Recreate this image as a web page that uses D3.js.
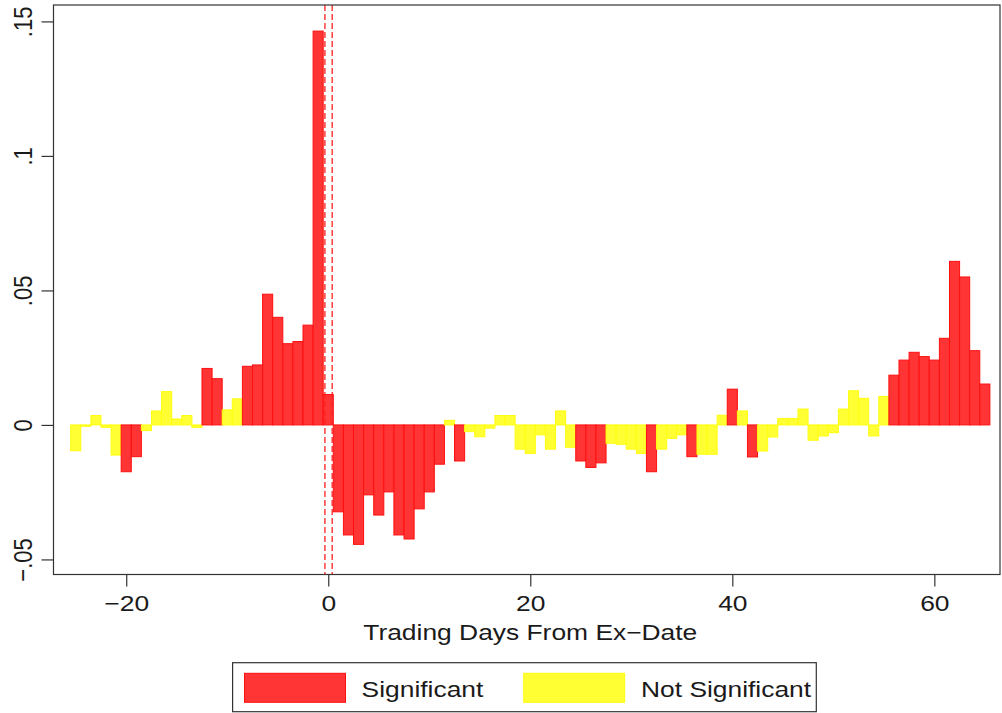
<!DOCTYPE html>
<html>
<head>
<meta charset="utf-8">
<script src="https://cdn.jsdelivr.net/npm/d3@7"></script>
<style>
  html, body { margin: 0; padding: 0; background: #fff; }
  svg { display: block; }
  text { font-family: "Liberation Sans", Arial, sans-serif; fill: #1a1a1a; }
</style>
</head>
<body>
<svg id="chart" width="1002" height="713"></svg>
<script>
// Abnormal returns by trading day relative to the ex-date
const days = d3.range(-25, 66);
const values = [
  -0.0096, -0.0005, 0.0035, -0.0009, -0.0112, -0.0174, -0.0118, -0.0021, 0.0052, 0.0124,
   0.0022, 0.0035, -0.0009, 0.0210, 0.0172, 0.0056, 0.0097, 0.0218, 0.0223, 0.0486,
   0.0400, 0.0302, 0.0310, 0.0371, 0.1464, 0.0113, -0.0323, -0.0409, -0.0444, -0.0260,
  -0.0335, -0.0249, -0.0409, -0.0424, -0.0312, -0.0249, -0.0146, 0.0017, -0.0134, -0.0025,
  -0.0044, -0.0012, 0.0035, 0.0035, -0.0090, -0.0106, -0.0037, -0.0090, 0.0052, -0.0083,
  -0.0134, -0.0158, -0.0141, -0.0068, -0.0072, -0.0090, -0.0106, -0.0174, -0.0090, -0.0050,
  -0.0037, -0.0118, -0.0109, -0.0109, 0.0036, 0.0133, 0.0052, -0.0119, -0.0097, -0.0045,
   0.0024, 0.0024, 0.0059, -0.0057, -0.0041, -0.0029, 0.0059, 0.0127, 0.0099, -0.0041,
   0.0106, 0.0185, 0.0241, 0.0270, 0.0254, 0.0241, 0.0322, 0.0608, 0.0550, 0.0276,
   0.0152
];
// 1 = significant, 0 = not significant
const significant = [
  0, 0, 0, 0, 0, 1, 1, 0, 0, 0,
  0, 0, 0, 1, 1, 0, 0, 1, 1, 1,
  1, 1, 1, 1, 1, 1, 1, 1, 1, 1,
  1, 1, 1, 1, 1, 1, 1, 0, 1, 0,
  0, 0, 0, 0, 0, 0, 0, 0, 0, 0,
  1, 1, 1, 0, 0, 0, 0, 1, 0, 0,
  0, 1, 0, 0, 0, 1, 0, 1, 0, 0,
  0, 0, 0, 0, 0, 0, 0, 0, 0, 0,
  0, 1, 1, 1, 1, 1, 1, 1, 1, 1,
  1
];
const xTicks = [-20, 0, 20, 40, 60];
const xTickLabels = ["\u221220", "0", "20", "40", "60"];
const yTicks = [-0.05, 0, 0.05, 0.1, 0.15];
const yTickLabels = ["\u2212.05", "0", ".05", ".1", ".15"];
const eventLines = [-0.33, 0.39];
const legendLabels = ["Significant", "Not Significant"];

const data = days.map((d, i) => ({ day: d, value: values[i], sig: significant[i] === 1 }));

const colors = {
  sig:    { fill: "#ff3434", stroke: "#ff1010" },
  nonsig: { fill: "#ffff33", stroke: "#ffff10" }
};

const svg = d3.select("#chart");
const plot = { left: 53.5, right: 1000, top: 5, bottom: 574.5 };
const stretch = "scale(1.2,1)";

const x = d3.scaleLinear().domain([-27.2, 66.5]).range([plot.left, plot.right]);
const y = d3.scaleLinear().domain([-0.0556, 0.1561]).range([plot.bottom, plot.top]);

// bars
svg.append("g")
  .selectAll("rect")
  .data(data)
  .join("rect")
  .attr("x", d => x(d.day - 0.5))
  .attr("width", d => x(d.day + 0.5) - x(d.day - 0.5))
  .attr("y", d => y(Math.max(0, d.value)))
  .attr("height", d => Math.abs(y(d.value) - y(0)))
  .attr("fill", d => d.sig ? colors.sig.fill : colors.nonsig.fill)
  .attr("stroke", d => d.sig ? colors.sig.stroke : colors.nonsig.stroke)
  .attr("stroke-width", 1);

// event window markers
svg.append("g")
  .selectAll("line")
  .data(eventLines)
  .join("line")
  .attr("x1", d => x(d)).attr("x2", d => x(d))
  .attr("y1", plot.top).attr("y2", plot.bottom)
  .attr("stroke", "#ff2020")
  .attr("stroke-width", 1.3)
  .attr("stroke-dasharray", "6,3");

// plot frame
svg.append("rect")
  .attr("x", plot.left).attr("y", plot.top)
  .attr("width", plot.right - plot.left).attr("height", plot.bottom - plot.top)
  .attr("fill", "none").attr("stroke", "#333").attr("stroke-width", 1.2);

// x axis
const xAxis = svg.append("g")
  .attr("transform", `translate(0,${plot.bottom})`)
  .call(d3.axisBottom(x).tickValues(xTicks).tickSize(12).tickFormat((d, i) => xTickLabels[i]));
xAxis.select(".domain").remove();
xAxis.selectAll(".tick line").attr("stroke", "#333").attr("stroke-width", 1.2);
xAxis.selectAll(".tick text")
  .attr("y", 0).attr("dy", 0)
  .attr("transform", `translate(0,36) ${stretch}`)
  .attr("font-size", 22)
  .attr("font-family", "Liberation Sans, Arial, sans-serif")
  .attr("fill", "#1a1a1a");

// y axis
const yAxis = svg.append("g")
  .attr("transform", `translate(${plot.left},0)`)
  .call(d3.axisLeft(y).tickValues(yTicks).tickSize(12).tickFormat((d, i) => yTickLabels[i]));
yAxis.select(".domain").remove();
yAxis.selectAll(".tick line").attr("stroke", "#333").attr("stroke-width", 1.2);
yAxis.selectAll(".tick text")
  .attr("x", 0).attr("y", 0).attr("dy", 0)
  .attr("text-anchor", "middle")
  .attr("transform", `translate(-21.5,0) ${stretch} rotate(-90)`)
  .attr("font-size", 22)
  .attr("font-family", "Liberation Sans, Arial, sans-serif")
  .attr("fill", "#1a1a1a");

// x axis title
svg.append("text")
  .attr("transform", `translate(${x(20)},640) ${stretch}`)
  .attr("text-anchor", "middle")
  .attr("font-size", 22)
  .text("Trading Days From Ex\u2212Date");

// legend
const legend = svg.append("g");
legend.append("rect")
  .attr("x", 232.6).attr("y", 662.7)
  .attr("width", 816.3 - 232.6).attr("height", 711.7 - 662.7)
  .attr("fill", "#fff").attr("stroke", "#333").attr("stroke-width", 1.2);
const legendItems = [
  { label: legendLabels[0], c: colors.sig, sx: 244.5, tx: 361.6 },
  { label: legendLabels[1], c: colors.nonsig, sx: 523.7, tx: 641 }
];
legendItems.forEach(it => {
  legend.append("rect")
    .attr("x", it.sx).attr("y", 673.3)
    .attr("width", 101).attr("height", 29)
    .attr("fill", it.c.fill).attr("stroke", it.c.stroke).attr("stroke-width", 1);
  legend.append("text")
    .attr("transform", `translate(${it.tx},696.5) ${stretch}`)
    .attr("font-size", 22)
    .text(it.label);
});
</script>
</body>
</html>
